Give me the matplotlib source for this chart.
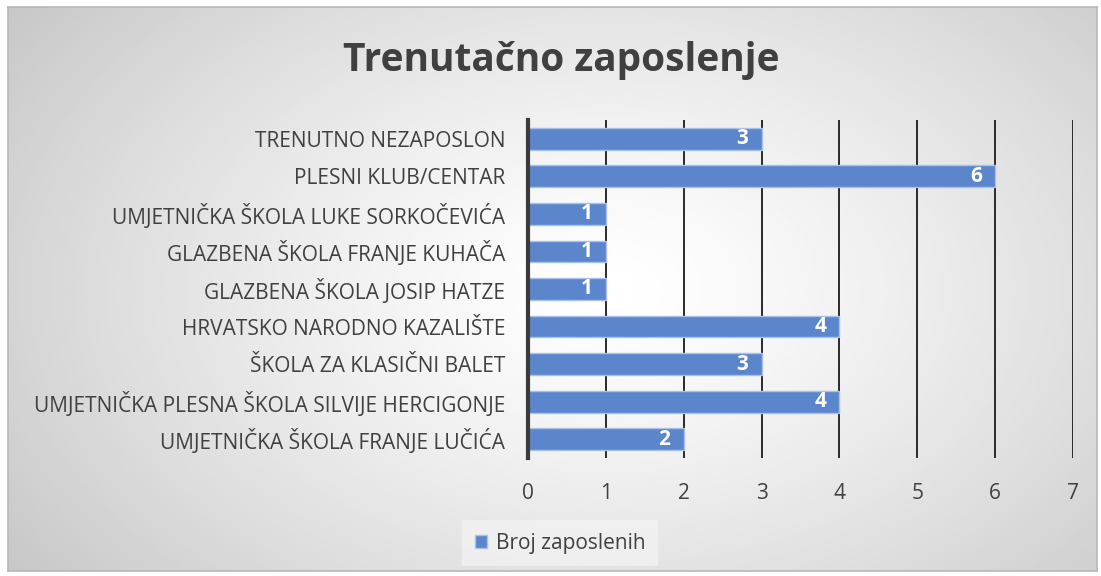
import numpy as np
import matplotlib.pyplot as plt

plt.rcParams['font.family'] = ['Open Sans', 'DejaVu Sans']

categories = ['UMJETNIČKA ŠKOLA FRANJE LUČIĆA',
              'UMJETNIČKA PLESNA ŠKOLA SILVIJE HERCIGONJE',
              'ŠKOLA ZA KLASIČNI BALET',
              'HRVATSKO NARODNO KAZALIŠTE',
              'GLAZBENA ŠKOLA JOSIP HATZE',
              'GLAZBENA ŠKOLA FRANJE KUHAČA',
              'UMJETNIČKA ŠKOLA LUKE SORKOČEVIĆA',
              'PLESNI KLUB/CENTAR',
              'TRENUTNO NEZAPOSLON']
values = [2, 4, 3, 4, 1, 1, 1, 6, 3]
xticks = [0, 1, 2, 3, 4, 5, 6, 7]

W, H = 1101, 576
fig = plt.figure(figsize=(W / 100, H / 100), dpi=100)

# background: radial gradient chart area with thin border
x0, y0, x1, y1 = 8, 7, 1097, 571
bg = fig.add_axes([x0 / W, 1 - y1 / H, (x1 - x0) / W, (y1 - y0) / H])
gx, gy = np.meshgrid(np.linspace(0, 1, 400), np.linspace(0, 1, 220))
r = np.sqrt(((gx - 0.55) / 0.75) ** 2 + ((gy - 0.5) / 0.95) ** 2)
shade = 1.0 - 0.25 * np.clip(r, 0, 1) ** 1.3
bg.imshow(shade, cmap='gray', vmin=0, vmax=1, aspect='auto', extent=[0, 1, 0, 1])
bg.set_xlim(0, 1)
bg.set_ylim(0, 1)
for s in bg.spines.values():
    s.set_color('#b8b8b8')
    s.set_linewidth(1.2)
bg.set_xticks([])
bg.set_yticks([])

# main plot
ax = fig.add_axes([528 / W, 1 - 458 / H, (1073 - 528) / W, (458 - 120) / H])
ax.patch.set_alpha(0)
y = np.arange(len(categories))
bars = ax.barh(y, values, height=0.58, color='#5b86cc', edgecolor='#a9c1ea',
               linewidth=1.0, zorder=3, label='Broj zaposlenih')
ax.set_ylim(-0.5, len(categories) - 0.5)
ax.set_xlim(0, 7)
ax.set_xticks(xticks)
ax.set_yticks(y)
ax.set_yticklabels(categories)
ax.tick_params(axis='both', length=0, labelsize=15, colors='#404040')
ax.tick_params(axis='y', pad=16.5)
ax.tick_params(axis='x', pad=18)
ax.grid(axis='x', color='#2a2a2a', linewidth=1.4, zorder=1)
for name in ['top', 'right', 'bottom']:
    ax.spines[name].set_visible(False)
ax.spines['left'].set_color('#3a3a3a')
ax.spines['left'].set_linewidth(3)
ax.spines['left'].set_zorder(4)

for b, v in zip(bars, values):
    ax.text(v - 0.17, b.get_y() + b.get_height() / 2, str(v), ha='right', va='center',
            color='white', fontsize=15, fontweight='bold', zorder=5)

fig.text(561 / W, 1 - 61 / H, 'Trenutačno zaposlenje', ha='center', va='center',
         fontsize=28, fontweight='bold', color='#404040')

leg = fig.legend(handles=[bars], labels=['Broj zaposlenih'], loc='center',
                 bbox_to_anchor=(560 / W, 1 - 543 / H), fontsize=15,
                 frameon=True, handlelength=0.6, handleheight=0.6,
                 borderpad=0.6, handletextpad=0.4, borderaxespad=0)
leg.get_frame().set_facecolor('#f2f2f2')
leg.get_frame().set_edgecolor('none')
leg.get_frame().set_alpha(0.8)
leg.get_frame().set_boxstyle('square', pad=0)
for t in leg.get_texts():
    t.set_color('#404040')

fig.savefig('out.png', dpi=100)
